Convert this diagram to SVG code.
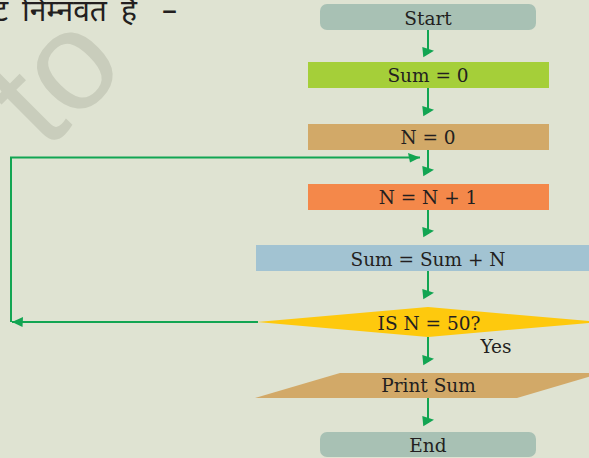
<svg xmlns="http://www.w3.org/2000/svg" width="589" height="458" viewBox="0 0 589 458">
<defs>
<style>
.lbl{font-family:"DejaVu Serif","Liberation Serif",serif;font-size:18.5px;fill:#231f20;text-anchor:middle}
.conn{stroke:#12a552;stroke-width:2;fill:none}
.hindi{font-family:"Noto Sans Devanagari","Noto Serif Devanagari","Lohit Devanagari","Noto Sans",sans-serif;font-size:30px;fill:#231f20}
.wm{font-family:"Liberation Sans",Arial,sans-serif;font-size:140px;fill:#c9cdbc}
</style>
<marker id="ad" markerUnits="userSpaceOnUse" viewBox="-7 -8 14 12" refX="0" refY="0" markerWidth="14" markerHeight="12" orient="0">
<polygon points="-5.7,-7 6,-3.3 -4.7,3.3" fill="#12a552"/>
</marker>
<marker id="ar" markerUnits="userSpaceOnUse" viewBox="-13 -6 14 12" refX="0" refY="0" markerWidth="14" markerHeight="12" orient="0">
<polygon points="-12,-4.5 0,0 -10,5" fill="#12a552"/>
</marker>
<marker id="al" markerUnits="userSpaceOnUse" viewBox="-1 -6 14 12" refX="0" refY="0" markerWidth="14" markerHeight="12" orient="0">
<polygon points="0,0 11,-5 10.5,5" fill="#12a552"/>
</marker>
</defs>
<rect x="0" y="0" width="589" height="458" fill="#dfe3d2"/>
<text class="wm" transform="translate(46,152) rotate(-45)">to</text>
<text class="hindi" y="21"><tspan x="-7">ट</tspan><tspan x="22">निम्नवत</tspan><tspan x="121">है</tspan><tspan x="162">–</tspan></text>

<g id="connectors">
<line class="conn" x1="428" y1="30" x2="428" y2="54" marker-end="url(#ad)"/>
<line class="conn" x1="428" y1="88" x2="428" y2="113" marker-end="url(#ad)"/>
<line class="conn" x1="428" y1="150" x2="428" y2="173" marker-end="url(#ad)"/>
<line class="conn" x1="428" y1="210" x2="428" y2="234" marker-end="url(#ad)"/>
<line class="conn" x1="428" y1="271" x2="428" y2="296" marker-end="url(#ad)"/>
<line class="conn" x1="428" y1="337" x2="428" y2="362" marker-end="url(#ad)"/>
<line class="conn" x1="428" y1="398" x2="428" y2="423" marker-end="url(#ad)"/>
<line class="conn" x1="258" y1="322" x2="12" y2="322" marker-end="url(#al)"/>
<polyline class="conn" points="11,322 11,157.5 420,157.5" marker-end="url(#ar)"/>
</g>

<g id="start">
<rect x="320" y="4" width="216" height="26" rx="7" fill="#a8c1b4"/>
<text class="lbl" x="428" y="25">Start</text>
</g>
<g id="sum0">
<rect x="308" y="62" width="241" height="26" fill="#a5cf39"/>
<text class="lbl" x="428" y="82">Sum = 0</text>
</g>
<g id="n0">
<rect x="308" y="124" width="241" height="26" fill="#d2a968"/>
<text class="lbl" x="428" y="144">N = 0</text>
</g>
<g id="ninc">
<rect x="308" y="184" width="241" height="26" fill="#f4884a"/>
<text class="lbl" x="428" y="204">N = N + 1</text>
</g>
<g id="sumadd">
<rect x="256" y="245" width="344" height="26" fill="#a2c3d2"/>
<text class="lbl" x="428" y="266">Sum = Sum + N</text>
</g>
<g id="decision">
<polygon points="257,322 428,307 599,322 428,337" fill="#fec90d"/>
<text class="lbl" x="429" y="330">IS N = 50?</text>
<text class="lbl" x="496" y="352.5">Yes</text>
</g>
<g id="print">
<polygon points="340,373 602,373 517,398 255,398" fill="#d2a968"/>
<text class="lbl" x="428.5" y="392">Print Sum</text>
</g>
<g id="end">
<rect x="320" y="432" width="216" height="25" rx="7" fill="#a8c1b4"/>
<text class="lbl" x="428" y="452">End</text>
</g>
</svg>
